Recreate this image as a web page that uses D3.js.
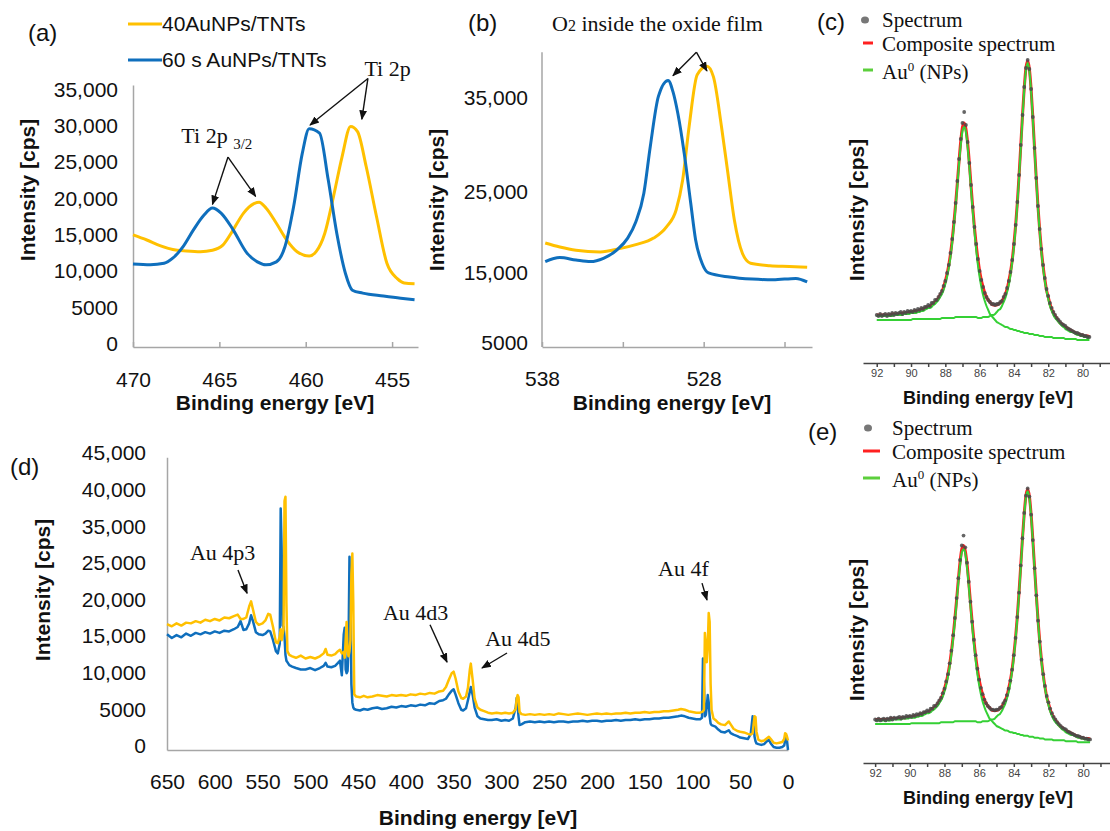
<!DOCTYPE html>
<html>
<head>
<meta charset="utf-8">
<script src="https://cdn.jsdelivr.net/npm/d3@7"></script>
<style>
  body { margin: 0; background: #fff; }
  svg { display: block; font-family: "Liberation Sans", Arial, sans-serif; }
  .serif { font-family: "Liberation Serif", "Times New Roman", serif; }
  .title { font-weight: bold; fill: #111; }
</style>
</head>
<body>
<svg id="fig" width="1110" height="831"></svg>
<script>
// ---- data ----
const seriesNames = ["40AuNPs/TNTs", "60 s AuNPs/TNTs"];
const COLOR_40 = "#ffc000";
const COLOR_60 = "#0f6fbd";

// (a) Ti 2p region, [binding energy eV, cps]
const ti2p40 = [
  [470, 15400], [469.2, 14700], [468.4, 13900], [467.7, 13400], [466.9, 13200],
  [466.1, 13100], [465.4, 13300], [464.8, 14000], [464.2, 16100], [463.6, 18400],
  [463.0, 19700], [462.7, 19900], [462.3, 19100], [461.7, 17000], [461.1, 14700],
  [460.5, 13100], [459.8, 12500], [459.4, 13100], [458.9, 15600], [458.4, 20600],
  [457.9, 26100], [457.4, 30300], [457.0, 29600], [456.5, 24800], [455.9, 17900],
  [455.3, 11500], [454.7, 9400], [454.3, 8800], [453.7, 8700]
];
const ti2p60 = [
  [470, 11400], [469, 11300], [468.2, 11500], [467.7, 12200], [467.1, 13800],
  [466.5, 16100], [465.9, 18100], [465.4, 19100], [464.9, 18400], [464.2, 16100],
  [463.4, 12900], [462.8, 11700], [462.3, 11300], [461.7, 11700], [461.2, 13800],
  [460.7, 19300], [460.2, 26600], [459.8, 30000], [459.2, 29400], [458.7, 23000],
  [458.2, 15600], [457.7, 10100], [457.3, 7800], [456.7, 7400], [455.5, 7000],
  [454.5, 6700], [453.7, 6500]
];
const tiTicksY = [0, 5000, 10000, 15000, 20000, 25000, 30000, 35000];
const tiTicksX = [470, 465, 460, 455];

// (b) O 1s region
const o1s40 = [
  [537.8, 19200], [536.9, 18700], [535.9, 18300], [534.4, 18100], [533.2, 18500],
  [532.2, 19000], [531.1, 19800], [530.3, 21200], [529.7, 23300], [529.3, 26700],
  [528.9, 32400], [528.4, 37900], [527.8, 38800], [527.4, 37700], [526.9, 32400],
  [526.5, 27400], [526.1, 22000], [525.6, 17900], [525.1, 16700], [523.9, 16400],
  [522.7, 16300], [521.6, 16200]
];
const o1s60 = [
  [537.8, 16900], [536.9, 17400], [535.9, 17100], [535.0, 16900], [534.2, 17300],
  [533.4, 18300], [532.7, 19800], [532.2, 21800], [531.7, 25300], [531.3, 30300],
  [530.8, 35600], [530.2, 37300], [529.9, 36100], [529.6, 33800], [529.2, 29500],
  [528.8, 24100], [528.5, 19600], [528.1, 16700], [527.7, 15500], [526.4, 15000],
  [525.0, 14700], [523.7, 14600], [522.3, 14800], [521.6, 14300]
];
const oTicksY = [5000, 15000, 25000, 35000];
const oTicksX = [538, 533, 528, 523];
const oLabelsX = [538, 528];

// (d) survey, [binding energy eV, 40AuNPs cps, 60 s cps]
const surveyRows = [
  [650, 17200, 15800], [645, 16900, 15300], [640, 17300, 15700], [635, 17000, 15400],
  [630, 17400, 15900], [625, 17300, 15600], [620, 17600, 16000], [615, 17400, 15800],
  [610, 17800, 16100], [605, 17600, 15900], [600, 17900, 16200], [595, 17700, 16000],
  [590, 18100, 16300], [585, 18000, 16200], [580, 18300, 16500], [576, 18500, 16800],
  [573, 17900, 17600], [570, 17900, 16400], [567, 18100, 16500], [564, 19600, 17300],
  [562, 20300, 18400], [560, 19200, 17600], [557, 17500, 16100], [554, 17100, 15800],
  [550, 17300, 15700], [547, 17700, 15900], [544, 18600, 16300], [542, 18500, 16200],
  [539, 16800, 15000], [536, 14700, 13500], [534, 14600, 13200], [532, 15500, 14500],
  [531, 16500, 38000], [530, 15000, 30000], [529, 15800, 17000], [528, 16500, 16800],
  [527, 39000, 15500], [526, 39600, 13000], [525, 20000, 12200], [524, 13500, 12000],
  [522, 13000, 11600], [519, 12800, 11400], [515, 12600, 11200], [510, 12900, 11000],
  [505, 12500, 11000], [500, 12700, 11200], [495, 12500, 10900], [490, 12800, 11200],
  [486, 13200, 11500], [484, 13800, 11900], [482, 13000, 11400], [478, 12900, 11300],
  [474, 13100, 11500], [471, 13500, 11900], [469, 13700, 12200], [467, 13200, 10200],
  [465, 13400, 15800], [464, 12600, 16700], [463, 15000, 11000], [462, 17500, 10500],
  [461, 13500, 10800], [460, 12800, 14000], [459, 13500, 27800], [458, 15000, 22000],
  [457, 24000, 9000], [456, 28700, 6500], [455, 20000, 5800], [454, 7600, 5600],
  [452, 7300, 5500], [448, 7200, 5400], [444, 7400, 5600], [440, 7200, 5500],
  [435, 7300, 5700], [430, 7500, 5800], [425, 7400, 5600], [420, 7300, 5700],
  [415, 7500, 5900], [410, 7400, 5800], [405, 7500, 6000], [400, 7400, 5900],
  [395, 7600, 6100], [390, 7500, 6000], [385, 7700, 6200], [380, 7600, 6100],
  [375, 7800, 6400], [370, 7700, 6300], [365, 8000, 6700], [361, 8100, 6800],
  [358, 8600, 7000], [355, 9600, 7600], [352, 10500, 8100], [350, 10700, 8300],
  [348, 9800, 7600], [345, 8000, 6400], [342, 7100, 5500], [340, 7000, 5400],
  [337, 7300, 5700], [335, 8500, 6800], [333, 11000, 8000], [332, 11800, 8600],
  [330, 9500, 7500], [328, 7000, 5800], [325, 5800, 4600], [322, 5500, 4300],
  [318, 5300, 4200], [314, 5100, 4100], [310, 5000, 4100], [305, 5100, 4200],
  [300, 5000, 4000], [296, 5100, 4100], [292, 5000, 4000], [288, 5100, 4300],
  [285, 5600, 5800], [284, 7000, 7100], [283, 7500, 6000], [282, 7200, 4500],
  [281, 5200, 3400], [279, 4900, 3500], [275, 4800, 3800], [270, 4900, 3900],
  [265, 4800, 3800], [260, 4900, 3900], [255, 4800, 3800], [250, 4900, 3900],
  [245, 4800, 3800], [240, 5000, 3900], [235, 4900, 3900], [230, 4800, 3800],
  [225, 4900, 3900], [220, 5000, 3900], [215, 4900, 4000], [210, 4800, 3900],
  [205, 4900, 4000], [200, 5000, 4000], [195, 4900, 3900], [190, 5000, 4000],
  [185, 4900, 4000], [180, 5000, 4100], [175, 5000, 4000], [170, 5100, 4100],
  [165, 5000, 4100], [160, 5100, 4200], [155, 5100, 4100], [150, 5200, 4200],
  [145, 5100, 4200], [140, 5200, 4300], [135, 5200, 4300], [130, 5300, 4400],
  [125, 5300, 4400], [120, 5400, 4500], [115, 5500, 4600], [112, 5600, 4700],
  [108, 5500, 4600], [104, 5300, 4400], [100, 5200, 4300], [96, 5100, 4200],
  [92, 5100, 4200], [90, 5200, 4400], [89, 5300, 12500], [88, 5500, 9000],
  [87, 16000, 4600], [86, 14500, 4800], [85, 12000, 6000], [84, 14000, 7500],
  [83, 18700, 6500], [82, 17500, 4600], [81, 9000, 3600], [80, 5500, 3400],
  [78, 4300, 3300], [76, 4100, 3200], [73, 3700, 2800], [70, 3500, 2500],
  [66, 3400, 2400], [62, 3900, 2700], [60, 3500, 2300], [57, 2900, 2100],
  [53, 2600, 1900], [50, 2500, 1700], [46, 2400, 1600], [42, 2200, 1500],
  [39, 2100, 2200], [37, 2300, 4600], [36, 3500, 3500], [35, 4600, 1800],
  [34, 4500, 1200], [33, 2500, 900], [31, 1400, 800], [28, 1200, 700],
  [25, 1300, 800], [22, 1600, 1200], [20, 1800, 1400], [18, 1500, 900],
  [15, 1000, 400], [12, 900, 300], [9, 1000, 300], [6, 1100, 400],
  [4, 1500, 600], [3, 2300, 1300], [2, 2200, 2000], [1, 1800, 1200], [0, 1300, 0]
];
const surveyTicksY = [0, 5000, 10000, 15000, 20000, 25000, 35000, 40000, 45000];
const surveyTicksX = [650, 600, 550, 500, 450, 400, 350, 300, 250, 200, 150, 100, 50, 0];

// (c)/(e) Au 4f fit, arbitrary intensity units
const au4fEnergy = [
  92.0, 91.9, 91.8, 91.7, 91.6, 91.5, 91.4, 91.3, 91.2, 91.1,
  91.0, 90.9, 90.8, 90.7, 90.6, 90.5, 90.4, 90.3, 90.2, 90.1,
  90.0, 89.9, 89.8, 89.7, 89.6, 89.5, 89.4, 89.3, 89.2, 89.1,
  89.0, 88.9, 88.8, 88.7, 88.6, 88.5, 88.4, 88.3, 88.2, 88.1,
  88.0, 87.9, 87.8, 87.7, 87.6, 87.5, 87.4, 87.3, 87.2, 87.1,
  87.0, 86.9, 86.8, 86.7, 86.6, 86.5, 86.4, 86.3, 86.2, 86.1,
  86.0, 85.9, 85.8, 85.7, 85.6, 85.5, 85.4, 85.3, 85.2, 85.1,
  85.0, 84.9, 84.8, 84.7, 84.6, 84.5, 84.4, 84.3, 84.2, 84.1,
  84.0, 83.9, 83.8, 83.7, 83.6, 83.5, 83.4, 83.3, 83.2, 83.1,
  83.0, 82.9, 82.8, 82.7, 82.6, 82.5, 82.4, 82.3, 82.2, 82.1,
  82.0, 81.9, 81.8, 81.7, 81.6, 81.5, 81.4, 81.3, 81.2, 81.1,
  81.0, 80.9, 80.8, 80.7, 80.6, 80.5, 80.4, 80.3, 80.2, 80.1,
  80.0, 79.9, 79.8, 79.7, 79.6
];
const au4fSpectrum = [
  48, 47, 49, 47, 48, 49, 47, 49, 48, 50,
  48, 50, 49, 50, 51, 49, 51, 50, 52, 51,
  52, 51, 53, 52, 54, 53, 55, 54, 56, 56,
  58, 57, 60, 60, 63, 63, 66, 69, 72, 77,
  82, 90, 98, 110, 124, 141, 160, 182, 204, 224,
  240, 251, 238, 221, 200, 178, 156, 136, 119, 104,
  92, 83, 76, 70, 66, 63, 61, 59, 59, 58,
  59, 59, 61, 62, 66, 69, 75, 82, 91, 103,
  119, 138, 161, 188, 218, 248, 276, 295, 303, 294,
  274, 246, 215, 185, 157, 134, 114, 98, 85, 74,
  67, 60, 55, 51, 48, 45, 43, 41, 39, 38,
  37, 35, 34, 33, 32, 31, 30, 30, 29, 28,
  28, 27, 27, 26, 26
];
const au4fComposite = [
  48, 48, 48, 48, 48, 48, 48, 48, 48, 49,
  49, 49, 49, 49, 49, 50, 50, 50, 50, 51,
  51, 51, 52, 52, 52, 53, 54, 54, 55, 56,
  56, 57, 58, 60, 61, 63, 65, 68, 71, 76,
  82, 89, 98, 109, 123, 140, 159, 180, 202, 222,
  236, 240, 234, 220, 200, 177, 155, 135, 118, 104,
  92, 83, 76, 70, 66, 63, 61, 59, 58, 58,
  58, 59, 60, 62, 65, 69, 74, 82, 91, 103,
  119, 138, 161, 188, 218, 248, 275, 295, 302, 294,
  274, 246, 215, 185, 157, 133, 113, 97, 84, 73,
  66, 59, 54, 50, 47, 45, 42, 40, 39, 37,
  36, 35, 34, 33, 32, 31, 30, 29, 29, 28,
  28, 27, 27, 27, 26
];
const au4fPeak52 = [
  47, 47, 47, 47, 47, 47, 47, 47, 47, 47,
  48, 48, 48, 48, 48, 48, 49, 49, 49, 49,
  50, 50, 50, 50, 51, 51, 52, 52, 53, 54,
  55, 55, 56, 58, 59, 61, 63, 66, 69, 73,
  79, 86, 95, 106, 120, 137, 156, 177, 199, 218,
  232, 236, 231, 216, 196, 173, 151, 131, 113, 98,
  86, 76, 68, 62, 57, 53, 49, 47, 45, 43,
  41, 40, 39, 38, 37, 36, 36, 35, 34, 34,
  33, 33, 32, 32, 31, 31, 30, 30, 30, 29,
  29, 29, 28, 28, 28, 27, 27, 27, 26, 26,
  26, 26, 26, 25, 25, 25, 25, 25, 25, 25,
  24, 24, 24, 24, 24, 24, 24, 23, 23, 23,
  23, 23, 23, 23, 23
];
const au4fPeak72 = [
  43, 43, 43, 43, 43, 43, 43, 43, 43, 43,
  43, 43, 43, 43, 43, 43, 43, 43, 43, 43,
  43, 44, 44, 44, 44, 44, 44, 44, 44, 44,
  44, 44, 44, 44, 44, 44, 44, 44, 45, 45,
  45, 45, 45, 45, 45, 45, 46, 46, 46, 46,
  46, 46, 46, 46, 46, 46, 46, 46, 46, 45,
  45, 45, 46, 46, 46, 46, 47, 48, 48, 49,
  51, 53, 54, 57, 61, 65, 71, 78, 88, 101,
  116, 136, 159, 186, 215, 246, 273, 293, 300, 292,
  272, 244, 213, 183, 155, 132, 111, 95, 82, 72,
  64, 57, 52, 48, 45, 43, 41, 39, 37, 36,
  34, 33, 32, 31, 31, 30, 29, 28, 28, 27,
  27, 26, 26, 25, 25
];
const au4fTicksX = [92, 91, 90, 89, 88, 87, 86, 85, 84, 83, 82, 81, 80, 79];
const fitLegend = ["Spectrum", "Composite spectrum", "Au"];

// ---- drawing ----
const svg = d3.select("#fig");

svg.append("defs").append("marker")
  .attr("id", "arrowhead")
  .attr("viewBox", "0 0 10 10")
  .attr("refX", 9)
  .attr("refY", 5)
  .attr("markerWidth", 7)
  .attr("markerHeight", 7)
  .attr("orient", "auto")
  .append("path")
  .attr("d", "M0,1L10,5L0,9Z")
  .attr("fill", "#111");

function fmtCps(v) {
  return v < 10000 ? String(v) : d3.format(",")(v);
}

function styleAxis(g, fontSize, stroke = "#a6a6a6") {
  g.attr("font-family", null).attr("font-size", null);
  g.select(".domain").attr("stroke", stroke).attr("stroke-width", 1.5);
  g.selectAll(".tick line").attr("stroke", stroke).attr("stroke-width", 1.5);
  g.selectAll(".tick text").attr("fill", "#111").style("font-size", `${fontSize}px`);
}

function arrow(g, x1, y1, x2, y2) {
  g.append("line")
    .attr("x1", x1)
    .attr("y1", y1)
    .attr("x2", x2)
    .attr("y2", y2)
    .attr("stroke", "#111")
    .attr("stroke-width", 1.4)
    .attr("marker-end", "url(#arrowhead)");
}

function panelTag(text, x, y) {
  svg.append("text")
    .attr("x", x)
    .attr("y", y)
    .attr("dy", "0.35em")
    .style("font-size", "24px")
    .attr("fill", "#111")
    .text(text);
}

function yTitle(g, x, y, size = 21) {
  g.append("text")
    .attr("class", "title")
    .attr("text-anchor", "middle")
    .attr("transform", `translate(${x},${y})rotate(-90)`)
    .attr("dy", "0.35em")
    .style("font-size", `${size}px`)
    .text("Intensity [cps]");
}

function xTitle(g, x, y, size = 21) {
  g.append("text")
    .attr("class", "title")
    .attr("text-anchor", "middle")
    .attr("x", x)
    .attr("y", y)
    .attr("dy", "0.35em")
    .style("font-size", `${size}px`)
    .text("Binding energy [eV]");
}

function drawSeries(g, data, line, color, width) {
  g.append("path")
    .datum(data)
    .attr("fill", "none")
    .attr("stroke", color)
    .attr("stroke-width", width)
    .attr("stroke-linejoin", "round")
    .attr("d", line);
}

// (a)
function drawTi() {
  const g = svg.append("g");
  const x = d3.scaleLinear().domain([470, 453.5]).range([133, 418]);
  const y = d3.scaleLinear().domain([0, 36000]).range([347, 85]);

  g.append("g")
    .attr("transform", `translate(${x(470)},0)`)
    .call(d3.axisLeft(y).tickValues(tiTicksY).tickFormat(fmtCps).tickSize(0).tickPadding(15))
    .call(styleAxis, 21)
    .call((a) => a.selectAll(".tick text").attr("y", -3));

  g.append("g")
    .attr("transform", `translate(0,${y(0)})`)
    .call(d3.axisBottom(x).tickValues(tiTicksX).tickFormat(d3.format("d"))
      .tickSizeInner(-5).tickSizeOuter(0).tickPadding(25))
    .call(styleAxis, 21);

  const line = d3.line().x((d) => x(d[0])).y((d) => y(d[1])).curve(d3.curveMonotoneX);
  drawSeries(g, ti2p40, line, COLOR_40, 3);
  drawSeries(g, ti2p60, line, COLOR_60, 3);

  yTitle(g, 28, 190);
  xTitle(g, 275, 403);

  // legend
  [[seriesNames[0], COLOR_40, 24], [seriesNames[1], COLOR_60, 60]].forEach(([name, color, ly]) => {
    g.append("line").attr("x1", 128).attr("x2", 162).attr("y1", ly).attr("y2", ly)
      .attr("stroke", color).attr("stroke-width", 3);
    g.append("text").attr("x", 162).attr("y", ly).attr("dy", "0.35em")
      .style("font-size", "21px").attr("fill", "#111").text(name);
  });

  // annotations
  g.append("text").attr("class", "serif").attr("x", x(456.6)).attr("y", y(38300))
    .attr("dy", "0.35em").style("font-size", "22px").attr("fill", "#111").text("Ti 2p");
  arrow(g, x(456.4), y(36900), x(459.75), y(30500));
  arrow(g, x(456.4), y(36900), x(456.75), y(31300));

  const t32 = g.append("text").attr("class", "serif").attr("x", x(467.2)).attr("y", y(29100))
    .attr("dy", "0.35em").style("font-size", "22px").attr("fill", "#111");
  t32.append("tspan").text("Ti 2p ");
  t32.append("tspan").attr("dy", 6).style("font-size", "15px").text("3/2");
  arrow(g, x(464.5), y(26100), x(465.4), y(19600));
  arrow(g, x(464.5), y(26100), x(462.9), y(20700));

  panelTag("(a)", 28, 33);
}

// (b)
function drawO() {
  const g = svg.append("g");
  const x = d3.scaleLinear().domain([538, 521.3]).range([542, 812]);
  const y = d3.scaleLinear().domain([5000, 15000, 25000, 35000]).range([347, 277, 196, 102]);

  g.append("line").attr("x1", x(538)).attr("x2", x(538))
    .attr("y1", y(5000)).attr("y2", y(40300))
    .attr("stroke", "#a6a6a6").attr("stroke-width", 1.5);

  g.append("g")
    .attr("transform", `translate(${x(538)},0)`)
    .call(d3.axisLeft(y).tickValues(oTicksY).tickFormat(fmtCps).tickSize(0).tickPadding(14))
    .call(styleAxis, 21)
    .call((a) => a.select(".domain").remove())
    .call((a) => a.selectAll(".tick text").attr("y", -4));

  g.append("g")
    .attr("transform", `translate(0,${y(5000)})`)
    .call(d3.axisBottom(x).tickValues(oTicksX)
      .tickFormat((d) => (oLabelsX.includes(d) ? d : ""))
      .tickSizeInner(-5).tickSizeOuter(0).tickPadding(24))
    .call(styleAxis, 21);

  const line = d3.line().x((d) => x(d[0])).y((d) => y(d[1])).curve(d3.curveMonotoneX);
  drawSeries(g, o1s40, line, COLOR_40, 3);
  drawSeries(g, o1s60, line, COLOR_60, 3);

  yTitle(g, 437, 200);
  xTitle(g, 672, 403);

  const t = g.append("text").attr("class", "serif").attr("x", 552).attr("y", 23)
    .attr("dy", "0.35em").style("font-size", "22px").attr("fill", "#111");
  t.append("tspan").text("O");
  t.append("tspan").style("font-size", "16px").text("2");
  t.append("tspan").text(" inside the oxide film");

  arrow(g, x(528.45), y(40300), x(529.9), y(37800));
  arrow(g, x(528.45), y(40300), x(527.8), y(38300));

  panelTag("(b)", 468, 23);
}

// (c) and (e)
function drawAu4f(cfg) {
  const g = svg.append("g");
  const x = d3.scaleLinear().domain(cfg.xDomain).range([863, 1110]);
  const y = d3.scaleLinear().domain([0, 320]).range(cfg.yRange);
  const pts = au4fEnergy.map((e, i) => ({
    e,
    spec: au4fSpectrum[i],
    comp: au4fComposite[i],
    p1: au4fPeak52[i],
    p2: au4fPeak72[i],
  }));

  g.append("g")
    .attr("transform", `translate(0,${cfg.yRange[0]})`)
    .call(d3.axisBottom(x).tickValues(au4fTicksX)
      .tickFormat((d) => (d % 2 === 0 ? d : ""))
      .tickSizeInner(4).tickSizeOuter(0).tickPadding(2))
    .call(styleAxis, 11, "#444")
    .call((a) => a.selectAll(".tick text").attr("fill", "#444"));

  const lineOf = (key) => d3.line().x((d) => x(d.e)).y((d) => y(d[key])).curve(d3.curveMonotoneX);

  drawSeries(g, pts, lineOf("comp"), "#ff2020", 3);
  drawSeries(g, pts, lineOf("p1"), "#35d035", 2);
  drawSeries(g, pts, lineOf("p2"), "#35d035", 2);

  g.append("g")
    .selectAll("circle")
    .data(pts)
    .join("circle")
    .attr("cx", (d) => x(d.e))
    .attr("cy", (d) => y(d.spec))
    .attr("r", 1.9)
    .attr("fill", "#4a4a4a")
    .attr("fill-opacity", 0.85);

  yTitle(g, 857, cfg.yTitle);
  xTitle(g, 988, cfg.xTitle, 18);

  // legend
  const lg = g.append("g").attr("class", "serif").attr("fill", "#111").style("font-size", "21px");
  lg.append("ellipse").attr("cx", cfg.dotX).attr("cy", cfg.legendY[0])
    .attr("rx", 4).attr("ry", 3.5).attr("fill", "#777");
  lg.append("line").attr("x1", 863).attr("x2", cfg.dashEnd)
    .attr("y1", cfg.legendY[1] - 1).attr("y2", cfg.legendY[1] - 1)
    .attr("stroke", "#ff2020").attr("stroke-width", 3);
  lg.append("line").attr("x1", 863).attr("x2", cfg.dashEnd)
    .attr("y1", cfg.legendY[2] - 2).attr("y2", cfg.legendY[2] - 2)
    .attr("stroke", "#5ccf3c").attr("stroke-width", 3);
  lg.append("text").attr("x", cfg.textX).attr("y", cfg.legendY[0]).attr("dy", "0.35em").text(fitLegend[0]);
  lg.append("text").attr("x", cfg.textX).attr("y", cfg.legendY[1]).attr("dy", "0.35em").text(fitLegend[1]);
  const au = lg.append("text").attr("x", cfg.textX).attr("y", cfg.legendY[2]).attr("dy", "0.35em");
  au.append("tspan").text(fitLegend[2]);
  au.append("tspan").attr("dy", -8).style("font-size", "13px").text("0");
  au.append("tspan").attr("dy", 8).text(" (NPs)");

  panelTag(cfg.tag, cfg.tagX, cfg.tagY);
}

// (d)
function drawSurvey() {
  const g = svg.append("g");
  const x = d3.scaleLinear().domain([650, 0]).range([167, 788]);
  const y = d3.scaleLinear().domain([0, 25000, 35000, 45000]).range([750, 567, 530.4, 457.2]);

  g.append("g")
    .attr("transform", `translate(${x(650)},0)`)
    .call(d3.axisLeft(y).tickValues(surveyTicksY).tickFormat(fmtCps).tickSize(0).tickPadding(21))
    .call(styleAxis, 21)
    .call((a) => a.selectAll(".tick text").attr("y", -4));

  g.append("g")
    .attr("transform", `translate(0,${y(0)})`)
    .call(d3.axisBottom(x).tickValues(surveyTicksX).tickFormat(d3.format("d"))
      .tickSize(0).tickPadding(24))
    .call(styleAxis, 21);

  const line60 = d3.line().x((d) => x(d[0])).y((d) => y(d[2]));
  const line40 = d3.line().x((d) => x(d[0])).y((d) => y(d[1]));
  drawSeries(g, surveyRows, line60, COLOR_60, 2.5);
  drawSeries(g, surveyRows, line40, COLOR_40, 2.5);

  yTitle(g, 43, 590);
  xTitle(g, 478, 818);

  const notes = [
    { text: "Au 4p3", at: [626, 29100], from: [575.7, 24600], to: [566.2, 21400] },
    { text: "Au 4d3", at: [424, 18850], from: [374.7, 17100], to: [356.9, 12000] },
    { text: "Au 4d5", at: [317, 15300], from: [294.1, 13250], to: [320.3, 11200] },
    { text: "Au 4f", at: [136, 24860], from: [90, 22800], to: [84.8, 20500] },
  ];
  notes.forEach((n) => {
    g.append("text").attr("class", "serif").attr("x", x(n.at[0])).attr("y", y(n.at[1]))
      .attr("dy", "0.35em").style("font-size", "22px").attr("fill", "#111").text(n.text);
    arrow(g, x(n.from[0]), y(n.from[1]), x(n.to[0]), y(n.to[1]));
  });

  panelTag("(d)", 10, 467);
}

drawTi();
drawO();
drawAu4f({
  tag: "(c)", tagX: 817, tagY: 22,
  xDomain: [92.8, 78.4], yRange: [363, 43],
  yTitle: 210, xTitle: 398,
  legendY: [20, 44, 72], dotX: 865, dashEnd: 873, textX: 882,
});
drawSurvey();
drawAu4f({
  tag: "(e)", tagX: 808, tagY: 432,
  xDomain: [92.7, 78.45], yRange: [763, 473],
  yTitle: 630, xTitle: 798,
  legendY: [428, 452, 480], dotX: 868, dashEnd: 880, textX: 892,
});
</script>
</body>
</html>
